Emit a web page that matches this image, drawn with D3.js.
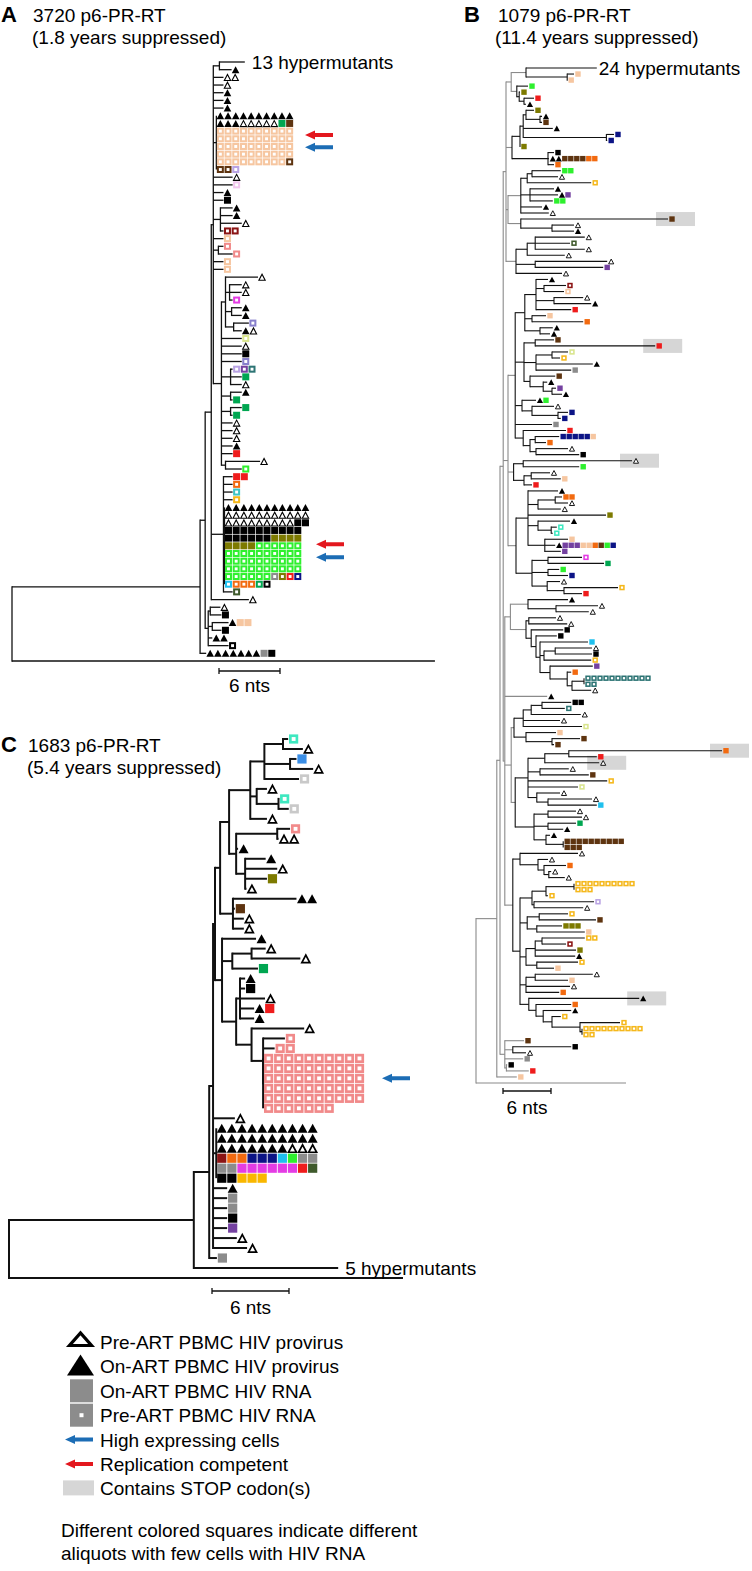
<!DOCTYPE html>
<html><head><meta charset="utf-8">
<script src="https://cdn.jsdelivr.net/npm/d3@7"></script>
<style>body{margin:0;background:#fff}svg{display:block}text{font-family:"Liberation Sans",Arial,Helvetica,sans-serif;fill:#000}</style>
</head><body>
<svg id="fig" width="752" height="1571"></svg>
<script>
// ---------------- DATA ----------------
// Trees in Newick-like notation; the number after ':' is the node's divergence from the root (nts).
// Leaf labels encode the symbols of each sequence row: T = on-ART provirus, t = pre-ART provirus,
// Fxx = on-ART RNA (filled square, colour xx), Oxx = pre-ART RNA (square with white centre),
// '|' separates rows of identical sequences, '!' = contains STOP codon(s), Hnn = nn hypermutants.
const palette = {bk:'#000000',gy:'#8c8c8c',lx:'#c9c9c9',pe:'#f6c6a0',br:'#5e3410',gr:'#00a651',lg:'#2ef02e',
  rd:'#ef1c1c',ol:'#7d7a00',nv:'#0c1486',or:'#f26a10',pu:'#7441a0',lp:'#b9a3e3',mg:'#e43ce4',tl:'#2d7474',
  cy:'#1fc0ee',tc:'#3cc4c4',yl:'#f5b81c',ly:'#d9e58e',pk:'#f18a8a',lk:'#f2c6ee',dr:'#8b1414',aq:'#3ee8c0',
  bl:'#3a8ee6',dg:'#3f5a2c',mb:'#8880cc',go:'#f9b700'};

// Panel A: 3720
const aH  = "(H13:22.9,T:21.6):20.4";
const aG1 = "10T|3T_5t_Fgr_Fbr|10Ope|10Ope|10Ope|10Ope|9Ope_Obr|2Obr_Olp:20.1";
const aC1 = "(T:21.7,T:21.7,t:22.6,2Odr:20.8):20.5";
const aC2 = "(Opk:20.8,Opk:21.7):20.3";
const aS1 = "(t:24.2,(t:22.6,t:22.6,Omg:21.7):21.4,(T:22.6,T:22.6):21.6,(Omb:23.3,T_t:22.6):21.8):21.0";
const aS  = `(${aS1},Oly:22.6,t:22.6,Fbk:22.6,Omb:22.6,(Olp_Opu_Otl:21.7,Fgr:22.6,t:22.6):21.5,(T:22.6,Fgr:21.7):21.5,(Fgr:22.6,Fgr:21.7):21.5,t:21.7,t:21.7,t:21.7,T:21.7,Frd:21.7,(t:24.4,Olg:22.6):21.0):20.6`;
const aG2 = "11T|11t|9t_2Fbk|10Fbk|6Fbk_4Fol|4Fol_6Olg|10Olg|10Olg|10Olg|6Olg_Ogy_Ool_Ord_Onv|Ocy_3Oor_Ogr_Obk:20.9";
const aL  = `(2Frd:21.7,Oor:21.7,Otc:21.7,Oyl:21.7,${aG2},Odg:21.7):20.8`;
const aM1 = `(${aH},2t:20.8,t:20.8,T:20.8,T:20.8,T:20.8,${aG1},t:21.7,Olk:21.7,T:20.8,Fbk:20.8,${aC1},Ope:20.8,${aC2},Ope:20.8,Ope:20.8,${aS}):19.8`;
const aM  = `(${aM1},${aL},t:23.3):19.6`;
const aN  = "((t:20.5,Fbk:20.6):19.5,(T_2Fpe:21.3,Fbk:20.6):19.7,2T:19.7,Obk:21.3):19.3";
const treeA = `(((${aM},${aN}):19.0,7T_Fgy_Fbk:19.1):18.5,L:41.6):0`;

// Panel B: 1079
const bT1 = "((H24:15.1,(Fpe:12.25,Fpe:11.4):11.4):6.25,(Flg:6.5,(Fol:5.5,(Frd:7.25,T:6.25):6.0):5.4):5.1):4.4";
const bT2 = "((((Fol:7.25,(T:8.25,Fbr:8.25):8.0):6.25,T:9.6,(Fnv:17.25,Fnv:16.4):16.3):5.9,Fol:5.5):5.5,(Fbk:9.75,2T_4Fbr_2For:9.1,For:9.75):9.0):4.5";
const bT3 = "((((2Flg:10.6,t:10.25):7.0,Oyl:14.4):6.4,(T:9.75,T_Fpu:10.25,2Flg:9.6):6.75,T:8.25,t:9.1):5.6,(Fbr!:24,(t:12.25,T:12.25):9.5):5.6):4.0";
const bT4 = "(((t:13.6,Odg:11.75,t:13.6):7.4,t:11.1):6.4,(t:16.4,Fpu:15.9):7.4,t:10.75):5.0";
const bT5a = "((T:9.0,(Odr:11.25,Ope:11.0):8.5,(t:13.4,T:14.4):9.75,Frd:11.9):7.5,(Fpe:8.75,For:13.4):7.0,(T:9.6,T:9.25):8.0):6.1";
const bT5b = "((Fbr:9.75,Frd!:22.4):7.4,((Oly:11.5,Oyl:10.5):9.5,T:14.6,Fgy:11.9):7.5,(Fbr:9.9,(T:8.9,(Fpu:10,T:10.75):9.5):8.4):6.75):6.0";
const bT5c = "(T_Flg:7.5,(t:9.75,(Fnv:11.5,Fnv:10.6):10.25):7.0):5.75";
const bT5d = "(Frd:11.25,((5Fnv_Fpe:10.4,For:8.75):7.4,(t:11.5,Fbk:12.9):7.5):6.75):5.9";
const bT5 = `(${bT5a},${bT5b},${bT5c},Fgy:9.5,${bT5d}):4.9`;
const bT6 = "((t!:19.5,Flg:12.9):5.9,((t:9.25,Fpe:10.6):6.9,Frd:7.0):6.0):4.7";
const bT7a = "(T:10.25,((2For:10.75,t:11.5):9.9,t:10.6):7.75,Fol:16.25,(T:11.75,(Oaq:10.1,Oaq:9.6):9.4):7.75,(Fpe:11.5,T_3Fpu_2Fpe_For_Fbr_Flg_Fnv:9.9,Fpu:10.6):8.6):6.5";
const bT7g = "((Omg:13.25,Fgr:16):9.0,(Flg:10.4,Fnv:11.5):9.0,(t:10.5,(Oyl:17.75,Frd:13.25):11):8.9):7.0";
const bT7 = `(${bT7a},${bT7g}):5.0`;
const bT8 = "(T:11.5,(t:15.25,t:14.1):10.0):6.5";
const bT9 = "((t:10,t:11.4):6.6,(Fbk:10.9,(Fbk:10.1,(Fcy:14,((t:14.5,Fbk:14.5):9.9,Oyl:14.4):8.5,(Fpu:14.6,(For:11.9,(11Otl|2Otl:13.5,t:14.4):12.0):11.4):9.25):8.0):7.5):6.9):6.25";
const bT11 = "((((2Fbk:11.9,Otl:11.1):8.25,t:13.1):6.9,t:10.5,Oly:13.25):5.9,(Fpe:10,(Fbr:13,Fbr:9.75):9.5):6.25):4.75";
const bT12 = "((((For!:30.75,Frd:15.1):11.6,t!:15.4):8.6,(t:11.6,Fbr:14.1):8.0,Oyl:16.4,Oly:12.75,(t:10.5,(t:14.5,Fcy:15.1):9.0):7.6):6.5,((t:12.5,t:13.25):9.0,(Fgr:12.5,T:10.9):9.0,(T:9.25,10Fbr|3Fbr:10.9):8.75):7.25):4.9";
const bT13 = "(t:12.75,(t:9.0,(For:11.25,(t:9.4,t:11.1):9.1):8.5):7.75):5.5";
const bT14 = "(((10Oyl|3Oyl:12.25,Oyl:9.0):8.75,(Olp:14.75,t:13.4):7.25):7.0,((Oyl:11.5,Fbr:15):7.9,(3Fol:10.75,Fpe:13.6):7.6):6.4,(((2Oyl:13.6,Odr:11.25):8.25,Fol:12.5,T:12.4):7.4,(Oyl:12.75,Fpe:9.75):7.6):6.25,((t:14.6,Fpe:11.5):7.4,t:11.75,For:10.4):6.25,(T!:20.4,(For:11.9,(T:11.9,(Oyl:10.6,(Oyl:18,10Oyl|2Oyl:13.25):13.0):9.5):8.4):7.5):6.6):5.5";
const bBz = "(Fbr:6.0,(Fbk:11.9,t:6.25):4.6,Fgy:5.9,(Fbk:3.9,Frd:6.6):3.8):3.6";
const bYa = `(${bT1},${bT2},${bT3},${bT4}):3.75`;
const bYb = `(${bT5},${bT6},${bT7}):4.0`;
const bYc = `((${bT8},${bT9}):4.3,T:8.9,(${bT11},${bT12}):4.4,(${bT13},${bT14}):4.6):3.6`;
const treeB = `((((${bYa},${bYb},${bYc}):3.4,${bBz}):3.0,Fpe:5.1):2.6,L:18.75):0`;

// Panel C: 1683
const cK1a = "(((Oaq:21.75,t:22.9):21.35,(Fbl:22.4,t:23.7):21.9,Olx:22.6):19.9,(t:20.1,(Oaq:21.05,Olx:21.8):21.0):19.3,t:20.1):18.8";
const cK1b = "((Opk:21.9,2t:21.0):20.9,T:17.85,(T:20.0,t:20.9,Fol:20.1,t:18.5):18.4):17.7";
const cK   = `((${cK1a},${cK1b}):17.15,(2T:22.4,Fbr:17.6,t:18.3,t:18.3):17.45):16.45`;
const cW   = "(T:19.25,((t:20.0,t:22.7):18.9,Fgr:19.4):17.4,((T:18.4,Fbk:18.4,t:19.95,T_Frd:19.1,T:19.1):18.0,(t:23.0,(Opk:21.5,2Opk:20.7,10Opk|10Opk|10Opk|10Opk|10Opk|7Opk:19.8):19.8):18.9):17.7):16.6";
const cGrid = "10T|10T|7T_3t|Fdr_2For_3Fnv_Fcy_Flg_2Fgy|2Fgy_6Fmg_Frd_Fdg|2Fbk_3Fgo:16.15";
const treeC = `(((((${cK},${cW}):16.05,t:17.6,${cGrid},T:17.0,Fgy:17.0,Fgy:17.0,Fbk:17.0,Fpu:17.0,t:17.75,t:18.55):15.9,Fgy:16.2):15.6,H5:25.65):14.4,L:30.7):0`;

// Arrows: row index in the panel's sequence rows, and meaning
const arrowPanel = ['A','A','A','A','C'];
const arrowRow   = [9.5, 11.1, 62.8, 64.5, 34];
const arrowKind  = ['rep','high','rep','high','high'];

const legendLabels = ['Pre-ART PBMC HIV provirus','On-ART PBMC HIV provirus','On-ART PBMC HIV RNA','Pre-ART PBMC HIV RNA','High expressing cells','Replication competent','Contains STOP codon(s)'];
const legendKinds  = ['t','T','F','O','high','rep','stop'];
const scaleNts = 6;

// ---------------- LAYOUT ----------------
const arrowX = [305, 305, 316, 316, 382];
const arrowColor = {rep:'#e3171e', high:'#1c6db5'};
const cfgA = {rootX:12, px6:61, yTop:62, yBot:661, size:7.0, step:7.7, off:4, tw:7.6, th:7, lw:1.3, ts:1.1, gray:-1, hdx:7, barX:219, barY:671, barTextY:692};
const cfgB = {rootX:476, px6:48, yTop:68, yBot:1083, size:5.4, step:6, off:4, tw:6.2, th:5.6, lw:1.1, ts:0.9, gray:4.5, hdx:2, barX:503, barY:1091, barTextY:1114};
const cfgC = {rootX:9, px6:77, yTop:739, yBot:1278, size:9.2, step:10.1, off:5.5, tw:10, th:9, lw:2, ts:1.7, gray:-1, hdx:7, barX:212, barY:1291, barTextY:1314};

const svg = d3.select('#fig');
svg.append('rect').attr('width',752).attr('height',1571).attr('fill','#fff');

function parseNewick(str){
  const s = str.replace(/\s+/g,''); let i = 0;
  function node(){
    const n = {};
    if (s[i] === '('){
      i++; n.children = [];
      n.children.push(node());
      while (s[i] === ','){ i++; n.children.push(node()); }
      i++;
    }
    let lab = ''; while (i < s.length && !':,();'.includes(s[i])) lab += s[i++];
    n.label = lab;
    if (s[i] === ':'){ i++; let num = ''; while (i < s.length && /[0-9.]/.test(s[i])) num += s[i++]; n.depth = +num; }
    else n.depth = 0;
    return n;
  }
  return node();
}
function expand(row){
  const out = [];
  row.split('_').forEach(tok => {
    const m = tok.match(/^(\d*)([TtFO])([a-z]{2})?$/); if (!m) return;
    const n = m[1] ? +m[1] : 1;
    for (let k = 0; k < n; k++) out.push({type:m[2], col:m[3]});
  });
  return out;
}
function drawMarker(g, m, cx, cy, c){
  if (m.type === 'T' || m.type === 't'){
    const open = m.type === 't', w = c.tw, h = c.th, d = open ? c.ts*0.6 : 0;
    g.append('path')
      .attr('d', `M${cx-w/2+d},${cy+h/2-d/2}L${cx+w/2-d},${cy+h/2-d/2}L${cx},${cy-h/2+d}Z`)
      .attr('fill', open ? '#fff' : '#000').attr('stroke', open ? '#000' : 'none')
      .attr('stroke-width', c.ts).attr('stroke-linejoin','miter');
  } else {
    const s = c.size;
    g.append('rect').attr('x',cx-s/2).attr('y',cy-s/2).attr('width',s).attr('height',s).attr('fill',palette[m.col]);
    if (m.type === 'O'){ const q = s*0.42; g.append('rect').attr('x',cx-q/2).attr('y',cy-q/2).attr('width',q).attr('height',q).attr('fill','#fff'); }
  }
}
function drawTree(newick, c){
  const root = d3.hierarchy(parseNewick(newick), d => d.children);
  const x = d3.scaleLinear().domain([0, scaleNts]).range([c.rootX, c.rootX + c.px6]);
  let r = 0;
  const leaves = root.leaves();
  leaves.forEach(l => {
    let lab = l.data.label; l.stop = lab.endsWith('!'); if (l.stop) lab = lab.slice(0,-1);
    l.lab = lab; l.rows = lab.split('|'); l.row0 = r; r += l.rows.length;
  });
  const y = d3.scaleLinear().domain([0, r-1]).range([c.yTop, c.yBot]);
  leaves.forEach(l => { l.py = y(l.row0 + (l.rows.length-1)/2); });
  root.eachAfter(n => { n.px = x(n.data.depth); if (n.children) n.py = (n.children[0].py + n.children[n.children.length-1].py)/2; });
  const gBox = svg.append('g'), gL = svg.append('g'), gM = svg.append('g');
  const col = d => (c.gray > 0 && d < c.gray) ? '#8a8a8a' : '#111';
  leaves.filter(l => l.stop).forEach(l => {
    const mc = l.px + c.off;
    gBox.append('rect').attr('x', mc-16).attr('y', l.py-7).attr('width',39).attr('height',14).attr('fill','#d6d6d6');
  });
  root.descendants().forEach(n => {
    if (n.parent && n.px - n.parent.px > 0.2)
      gL.append('line').attr('x1',n.parent.px).attr('x2',n.px).attr('y1',n.py).attr('y2',n.py)
        .attr('stroke', col(n.parent.data.depth)).attr('stroke-width',c.lw);
    if (n.children)
      gL.append('line').attr('x1',n.px).attr('x2',n.px)
        .attr('y1',n.children[0].py - c.lw/2).attr('y2',n.children[n.children.length-1].py + c.lw/2)
        .attr('stroke', col(n.data.depth)).attr('stroke-width',c.lw);
  });
  leaves.forEach(l => {
    const hm = l.lab.match(/^H(\d+)$/);
    if (hm){ gM.append('text').attr('x', l.px + c.hdx).attr('y', l.py + 7).attr('font-size',19).text(`${hm[1]} hypermutants`); return; }
    if (l.lab === 'L') return;
    if (l.rows.length > 1)
      gL.append('line').attr('x1',l.px).attr('x2',l.px).attr('y1',y(l.row0)).attr('y2',y(l.row0+l.rows.length-1))
        .attr('stroke','#111').attr('stroke-width',c.lw);
    l.rows.forEach((row, ri) => {
      const yy = y(l.row0 + ri);
      expand(row).forEach((m, k) => drawMarker(gM, m, l.px + c.off + k*c.step, yy, c));
    });
  });
  const len = x(scaleNts) - x(0);
  const gs = svg.append('g').attr('stroke','#111').attr('stroke-width',1.3);
  gs.append('line').attr('x1',c.barX).attr('x2',c.barX+len).attr('y1',c.barY).attr('y2',c.barY);
  gs.append('line').attr('x1',c.barX).attr('x2',c.barX).attr('y1',c.barY-3).attr('y2',c.barY+3);
  gs.append('line').attr('x1',c.barX+len).attr('x2',c.barX+len).attr('y1',c.barY-3).attr('y2',c.barY+3);
  svg.append('text').attr('x',c.barX+len/2).attr('y',c.barTextY).attr('text-anchor','middle').attr('font-size',19).text(`${scaleNts} nts`);
  return y;
}
function drawArrow(x0, yy, color, len){
  svg.append('path').attr('fill', color)
    .attr('d', `M${x0},${yy}L${x0+10},${yy-4.5}L${x0+10},${yy-2}L${x0+len},${yy-2}L${x0+len},${yy+2}L${x0+10},${yy+2}L${x0+10},${yy+4.5}Z`);
}

const yA = drawTree(treeA, cfgA);
const yB = drawTree(treeB, cfgB);
const yC = drawTree(treeC, cfgC);
const rowScale = {A:yA, C:yC};
arrowRow.forEach((r, i) => drawArrow(arrowX[i], rowScale[arrowPanel[i]](r), arrowColor[arrowKind[i]], 28));

function title(letter, lx, x, y, l1, l2, x2){
  svg.append('text').attr('x',lx).attr('y',y).attr('font-size',22).attr('font-weight','bold').text(letter);
  svg.append('text').attr('x',x).attr('y',y).attr('font-size',19).text(l1);
  svg.append('text').attr('x',x2).attr('y',y+22).attr('font-size',19).text(l2);
}
title('A', 1, 33, 22, '3720 p6-PR-RT', '(1.8 years suppressed)', 32);
title('B', 464, 498, 22, '1079 p6-PR-RT', '(11.4 years suppressed)', 495);
title('C', 1, 28, 752, '1683 p6-PR-RT', '(5.4 years suppressed)', 27);

const lg = svg.append('g');
legendLabels.forEach((lab, i) => {
  const cy = 1342 + i*24.4, k = legendKinds[i];
  if (k === 't') lg.append('path').attr('d',`M69.5,${cy+3.5}L91.5,${cy+3.5}L80.5,${cy-9}Z`).attr('fill','#fff').attr('stroke','#000').attr('stroke-width',3.2);
  if (k === 'T') lg.append('path').attr('d',`M67,${cy+9}L94,${cy+9}L80.5,${cy-12}Z`).attr('fill','#000');
  if (k === 'F' || k === 'O'){
    lg.append('rect').attr('x',70).attr('y',cy-11.5).attr('width',23).attr('height',23).attr('fill','#8c8c8c');
    if (k === 'O') lg.append('rect').attr('x',79.5).attr('y',cy-2).attr('width',4).attr('height',4).attr('fill','#fff');
  }
  if (k === 'high' || k === 'rep'){
    lg.append('path').attr('fill',arrowColor[k]).attr('d',`M65,${cy}L75,${cy-4.5}L75,${cy-2}L93,${cy-2}L93,${cy+2}L75,${cy+2}L75,${cy+4.5}Z`);
  }
  if (k === 'stop') lg.append('rect').attr('x',63).attr('y',cy-8).attr('width',31).attr('height',15).attr('fill','#d6d6d6');
  lg.append('text').attr('x',100).attr('y',cy+7).attr('font-size',19).text(lab);
});
svg.append('text').attr('x',61).attr('y',1537).attr('font-size',19).text('Different colored squares indicate different');
svg.append('text').attr('x',61).attr('y',1560).attr('font-size',19).text('aliquots with few cells with HIV RNA');
</script>
</body></html>
